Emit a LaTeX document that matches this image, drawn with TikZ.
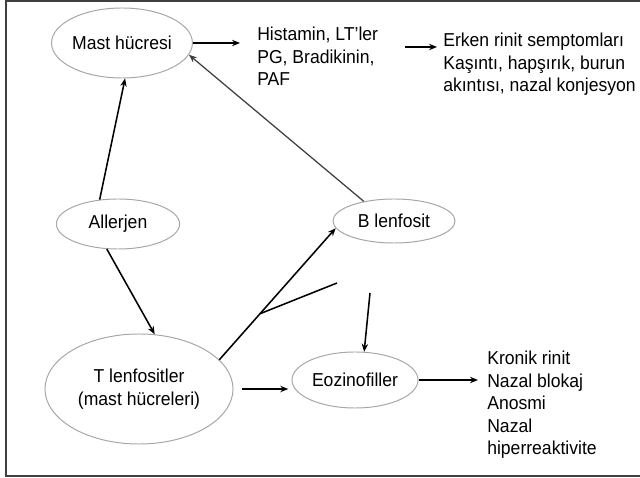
\documentclass[tikz,border=0pt]{standalone}
\usepackage{fontspec}
\setmainfont{Liberation Sans}[FakeStretch=0.94]
\usetikzlibrary{shapes.geometric,arrows.meta,calc}

\begin{document}
\begin{tikzpicture}
	[
		x=0.025cm, y=-0.025cm,
		cell/.style = {shape=ellipse, draw=black!35, line width=0.7pt, inner sep=0pt, align=center, font=\fontsize{13.3}{16}\selectfont},
		note/.style = {anchor=north west, inner ysep=0pt, align=left, font=\fontsize{13.3}{16}\selectfont},
		arr/.style = {-{Stealth[length=0.2cm,width=0.16cm]}, line width=1.1pt},
		plain/.style = {line width=1.1pt}
	]
	
	\useasboundingbox (0,0) rectangle (640,478);
	\draw [black!75, line width=1pt] (640,1) -- (6,1) -- (6,476) -- (640,476);
	
	% cells
	\node [cell, minimum width=3.5cm, minimum height=1.75cm] (mast) at (122,43) {Mast hücresi};
	\node [cell, minimum width=3.08cm, minimum height=1.25cm] (allerjen) at (118,224) {Allerjen};
	\node [cell, minimum width=3.05cm, minimum height=1.1cm] (blenf) at (394,221) {B lenfosit};
	\node [cell, minimum width=4.7cm, minimum height=2.75cm] (tlenf) at (139,389) {T lenfositler\\(mast hücreleri)};
	\node [cell, minimum width=3.15cm, minimum height=1.4cm] (eozin) at (355,380) {Eozinofiller};
	
	% notes
	\node [note, inner xsep=0.425cm] (hist) at (240,27) {Histamin, LT’ler\\PG, Bradikinin,\\PAF};
	\node [note, inner xsep=0.15cm] (erken) at (437,33) {Erken rinit semptomları\\Kaşıntı, hapşırık, burun\\akıntısı, nazal konjesyon};
	\node [note, inner xsep=0.225cm] (kronik) at (478,351) {Kronik rinit\\Nazal blokaj\\Anosmi\\Nazal\\hiperreaktivite};
	
	\coordinate (e1) at (405,47);
	\coordinate (brend) at (337,283);
	\coordinate (eoin) at (370,293);
	\coordinate (br) at ($(tlenf.20)!0.35!(blenf.187)$);
	
	% connectors
	\draw [arr] (mast.east) -- (mast.east -| hist.west);
	\draw [arr] (e1) -- (e1 -| erken.west);
	\draw [arr, black!75, line width=0.9pt] (blenf.147) -- (mast.-10);
	\draw [arr] (allerjen.127) -- (mast.275);
	\draw [arr] (allerjen.246) -- (tlenf.74);
	\draw [arr] (tlenf.20) -- (blenf.187);
	\draw [plain] (br) -- (brend);
	\draw [arr] (eoin) -- (eozin.72);
	\draw [arr] ([xshift=0.2cm]tlenf.east) -- ([xshift=-0.08cm]tlenf.east -| eozin.west);
	\draw [arr] (eozin.east) -- (eozin.east -| kronik.west);
	
\end{tikzpicture}
\end{document}
